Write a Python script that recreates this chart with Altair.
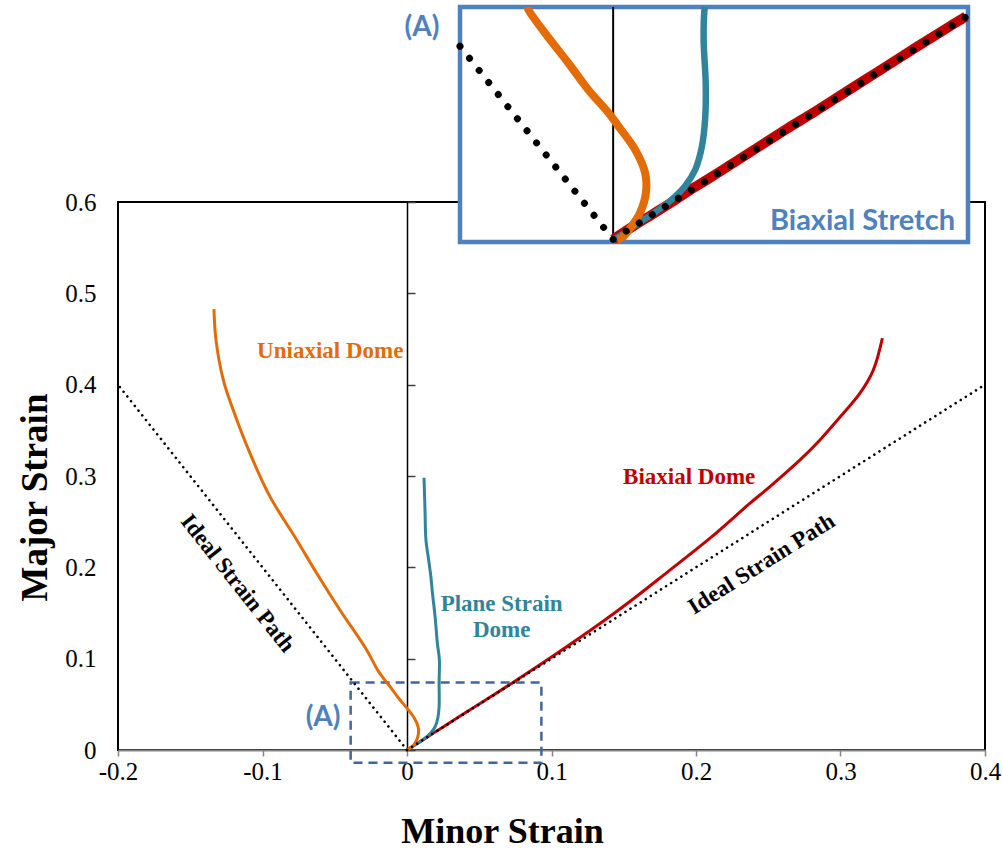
import altair as alt
import pandas as pd

# ---------------- main view: measured strain paths (minor, major) ----------------
uniaxial_minor = [0.0, 0.0045, 0.0065, 0.0079, 0.0077, 0.0053, 0.0013, -0.0060, -0.0108, -0.0164, -0.0204,
                  -0.0279, -0.0464, -0.0625, -0.0763, -0.0948, -0.1087, -0.1202, -0.1271, -0.1322, -0.1336]
uniaxial_major = [0.0, 0.0051, 0.0102, 0.0178, 0.0254, 0.0343, 0.0432, 0.0572, 0.0674, 0.0788, 0.0877,
                  0.1095, 0.1533, 0.1935, 0.2300, 0.2774, 0.3250, 0.3720, 0.4050, 0.4490, 0.4827]

plane_minor = [0.0, 0.0053, 0.0101, 0.0141, 0.0173, 0.0198, 0.0214, 0.0222, 0.0223, 0.0222, 0.0224, 0.0210,
               0.0195, 0.0176, 0.0165, 0.0150, 0.0131, 0.0125, 0.0118]
plane_major = [0.0, 0.0051, 0.0102, 0.0152, 0.0203, 0.0267, 0.0356, 0.0470, 0.0597, 0.0730, 0.0990, 0.1170,
               0.1450, 0.1720, 0.1900, 0.2080, 0.2300, 0.2600, 0.2980]

biaxial_minor = [0.0, 0.0100, 0.0193, 0.0226, 0.0420, 0.0568, 0.0731, 0.1000, 0.1336, 0.1545, 0.1800, 0.2097,
                 0.2374, 0.2512, 0.2720, 0.2858, 0.3020, 0.3135, 0.3227, 0.3290]
biaxial_major = [0.0, 0.0101, 0.0196, 0.0228, 0.0424, 0.0571, 0.0737, 0.1018, 0.1385, 0.1628, 0.1945, 0.2319,
                 0.2702, 0.2884, 0.3176, 0.3395, 0.3688, 0.3907, 0.4160, 0.4510]

# ideal (proportional) strain paths
ideal_uni_minor = [0.0, -0.2]
ideal_uni_major = [0.0, 0.4]
ideal_bi_minor = [0.0, 0.4]
ideal_bi_major = [0.0, 0.4]

x_domain = [-0.2, 0.4]
y_domain = [0.0, 0.6]
x_ticks = [-0.2, -0.1, 0.0, 0.1, 0.2, 0.3, 0.4]
y_ticks = [0.0, 0.1, 0.2, 0.3, 0.4, 0.5, 0.6]

# region (A) outlined on the main view
zoom_minor = [-0.039, 0.093]
zoom_major = [-0.014, 0.074]

# ---------------- inset (A): detail near the origin ----------------
inset_minor_domain = [-0.0369, 0.0855]
inset_major_domain = [-0.001, 0.0888]
inset_x_px = [342, 850]
inset_y_px = [40, -195]

inset_uni_minor = [0.0010, 0.0021, 0.0045, 0.0065, 0.0079, 0.0077, 0.0053, 0.0013, -0.0011, -0.0060,
                   -0.0108, -0.0164, -0.0204, -0.0206]
inset_uni_major = [0.0000, 0.0006, 0.0051, 0.0102, 0.0178, 0.0254, 0.0343, 0.0432, 0.0483, 0.0572,
                   0.0674, 0.0788, 0.0877, 0.0888]

inset_plane_minor = [0.0, 0.0013, 0.0053, 0.0101, 0.0141, 0.0173, 0.0198, 0.0214, 0.0222, 0.0223,
                     0.0218, 0.0220, 0.0221]
inset_plane_major = [0.0, 0.0010, 0.0054, 0.0104, 0.0152, 0.0203, 0.0267, 0.0356, 0.0470, 0.0597,
                     0.0762, 0.0877, 0.0888]

inset_bi_minor = [0.0, 0.0050, 0.0100, 0.0150, 0.0193, 0.0226, 0.0280, 0.0340, 0.0420, 0.0480, 0.0568,
                  0.0640, 0.0731, 0.0800, 0.0850]
inset_bi_major = [0.0, 0.0052, 0.0101, 0.0151, 0.0196, 0.0228, 0.0282, 0.0343, 0.0424, 0.0482, 0.0571,
                  0.0643, 0.0735, 0.0803, 0.0852]

inset_ideal_uni_minor = [-0.0369, 0.0]
inset_ideal_uni_major = [0.0738, 0.0]
inset_ideal_bi_minor = [0.0, 0.0855]
inset_ideal_bi_major = [0.0, 0.0855]

ORANGE = "#E36C09"
TEAL = "#31849B"
RED = "#C00000"
BLUE = "#4F81BD"
BOX_BLUE = "#41669C"
SERIF = "Liberation Serif"
SANS = "Lato"

sx = alt.Scale(domain=x_domain, nice=False, zero=False)
sy = alt.Scale(domain=y_domain, nice=False, zero=False)
sxi = alt.Scale(domain=inset_minor_domain, range=inset_x_px, nice=False, zero=False)
syi = alt.Scale(domain=inset_major_domain, range=inset_y_px, nice=False, zero=False)

tick_label = "(datum.value < 0 ? '-' : '') + format(abs(datum.value), '~g')"


def path(xs, ys, xsc, ysc, xaxis=None, yaxis=None, **mark):
    df = pd.DataFrame({"x": xs, "y": ys, "i": list(range(len(xs)))})
    return alt.Chart(df).mark_line(**mark).encode(
        x=alt.X("x:Q", scale=xsc, axis=xaxis),
        y=alt.Y("y:Q", scale=ysc, axis=yaxis),
        order="i:Q",
    )


def label(text, x, y, xsc, ysc, **mark):
    df = pd.DataFrame({"x": [x], "y": [y], "t": [text]})
    return alt.Chart(df).mark_text(**mark).encode(
        x=alt.X("x:Q", scale=xsc, axis=None),
        y=alt.Y("y:Q", scale=ysc, axis=None),
        text="t:N",
    )


x_axis = alt.Axis(
    orient="bottom", values=x_ticks, labelExpr=tick_label, grid=False, labelFlush=False,
    labelFont=SERIF, labelFontSize=25, labelColor="black", labelPadding=3,
    tickSize=6, tickColor="#868686", tickWidth=1.5,
    domainColor="#868686", domainWidth=2,
    title="Minor Strain", titleFont=SERIF, titleFontSize=36, titleFontWeight="bold",
    titleColor="black", titleX=384, titleY=81, titleBaseline="middle", titleAlign="center",
)
y_axis = alt.Axis(
    orient="left", values=y_ticks, labelExpr=tick_label, grid=False, labelFlush=False,
    labelFont=SERIF, labelFontSize=25, labelColor="black", labelPadding=22,
    ticks=False, domain=False,
    title="Major Strain", titleFont=SERIF, titleFontSize=37, titleFontWeight="bold",
    titleColor="black", titleX=-83, titleY=295, titleBaseline="middle", titleAlign="center",
    titleAngle=270,
)
# vertical axis line through zero minor strain, ticks pointing right
zero_axis = alt.Axis(
    orient="right", offset=-578, values=y_ticks, labels=False, title=None, grid=False,
    domainColor="black", domainWidth=1.5, tickColor="#404040", tickWidth=1.5, tickSize=8,
)

zoom_box = alt.Chart(pd.DataFrame({"x": [zoom_minor[0]], "x2": [zoom_minor[1]],
                                   "y": [zoom_major[0]], "y2": [zoom_major[1]]})).mark_rect(
    fillOpacity=0, stroke=BOX_BLUE, strokeWidth=2.5, strokeDash=[9, 6]
).encode(
    x=alt.X("x:Q", scale=sx, axis=None), x2="x2:Q",
    y=alt.Y("y:Q", scale=sy, axis=None), y2="y2:Q",
)

serif_lbl = dict(font=SERIF, fontSize=23, fontWeight="bold", align="center")

main_layers = [
    zoom_box,
    path(biaxial_minor, biaxial_major, sx, sy, xaxis=x_axis, yaxis=y_axis,
         color=RED, strokeWidth=3, interpolate="catmull-rom"),
    path(plane_minor, plane_major, sx, sy, yaxis=zero_axis, color=TEAL, strokeWidth=3,
         interpolate="catmull-rom"),
    path(uniaxial_minor, uniaxial_major, sx, sy, color=ORANGE, strokeWidth=3,
         interpolate="catmull-rom"),
    path(ideal_uni_minor, ideal_uni_major, sx, sy, color="black", strokeWidth=2.6,
         strokeDash=[0.01, 6], strokeCap="round"),
    path(ideal_bi_minor, ideal_bi_major, sx, sy, color="black", strokeWidth=2.6,
         strokeDash=[0.01, 6], strokeCap="round"),
    label("Uniaxial Dome", -0.0531, 0.429, sx, sy, color=ORANGE, baseline="alphabetic", **serif_lbl),
    label("Biaxial Dome", 0.1953, 0.2911, sx, sy, color=RED, baseline="alphabetic", **serif_lbl),
    label("Plane Strain", 0.0655, 0.1526, sx, sy, color=TEAL, baseline="alphabetic", **serif_lbl),
    label("Dome", 0.0655, 0.1241, sx, sy, color=TEAL, baseline="alphabetic", **serif_lbl),
    label("Ideal Strain Path", -0.1173, 0.1826, sx, sy, color="black", baseline="middle",
          angle=51.6, **serif_lbl),
    label("Ideal Strain Path", 0.2454, 0.2037, sx, sy, color="black", baseline="middle",
          angle=327.7, **serif_lbl),
    label("(A)", -0.0581, 0.035, sx, sy, font=SANS, fontSize=28, fontWeight="bold",
          color=BLUE, align="center", baseline="middle"),
    label("(A)", 0.0104, 0.791, sx, sy, font=SANS, fontSize=28, fontWeight="bold",
          color=BLUE, align="center", baseline="middle"),
]

inset_frame = alt.Chart(pd.DataFrame({"x": [inset_minor_domain[0]], "x2": [inset_minor_domain[1]],
                                      "y": [inset_major_domain[0]], "y2": [inset_major_domain[1]]})).mark_rect(
    fill="white", stroke=BLUE, strokeWidth=4.5
).encode(
    x=alt.X("x:Q", scale=sxi, axis=None), x2="x2:Q",
    y=alt.Y("y:Q", scale=syi, axis=None), y2="y2:Q",
)

inset_zero = alt.Chart(pd.DataFrame({"x": [0.0], "y": [0.0], "y2": [inset_major_domain[1]]})).mark_rule(
    color="black", strokeWidth=2
).encode(
    x=alt.X("x:Q", scale=sxi, axis=None),
    y=alt.Y("y:Q", scale=syi, axis=None), y2="y2:Q",
)

inset_layers = [
    inset_frame,
    inset_zero,
    path(inset_bi_minor, inset_bi_major, sxi, syi, color=RED, strokeWidth=10,
         interpolate="catmull-rom"),
    path(inset_plane_minor, inset_plane_major, sxi, syi, color=TEAL, strokeWidth=6.5,
         interpolate="catmull-rom"),
    path(inset_uni_minor, inset_uni_major, sxi, syi, color=ORANGE, strokeWidth=8,
         interpolate="catmull-rom"),
    path(inset_ideal_uni_minor, inset_ideal_uni_major, sxi, syi, color="black", strokeWidth=7,
         strokeDash=[0.01, 15.4], strokeCap="round"),
    path(inset_ideal_bi_minor, inset_ideal_bi_major, sxi, syi, color="black", strokeWidth=7,
         strokeDash=[0.01, 15.4], strokeCap="round"),
    label("Biaxial Stretch", 0.0824, 0.0037, sxi, syi, font=SANS, fontSize=29, fontWeight="bold",
          color=BLUE, align="right", baseline="alphabetic"),
]

chart = alt.layer(*main_layers, *inset_layers).resolve_scale(
    x="independent", y="independent"
).properties(
    width=867, height=548,
    padding={"left": 118, "top": 202, "right": 18, "bottom": 101},
    autosize="none", background="white",
).configure_view(stroke="black", strokeWidth=2)

chart.save("out.html", embed_options={"renderer": "svg", "actions": False})
